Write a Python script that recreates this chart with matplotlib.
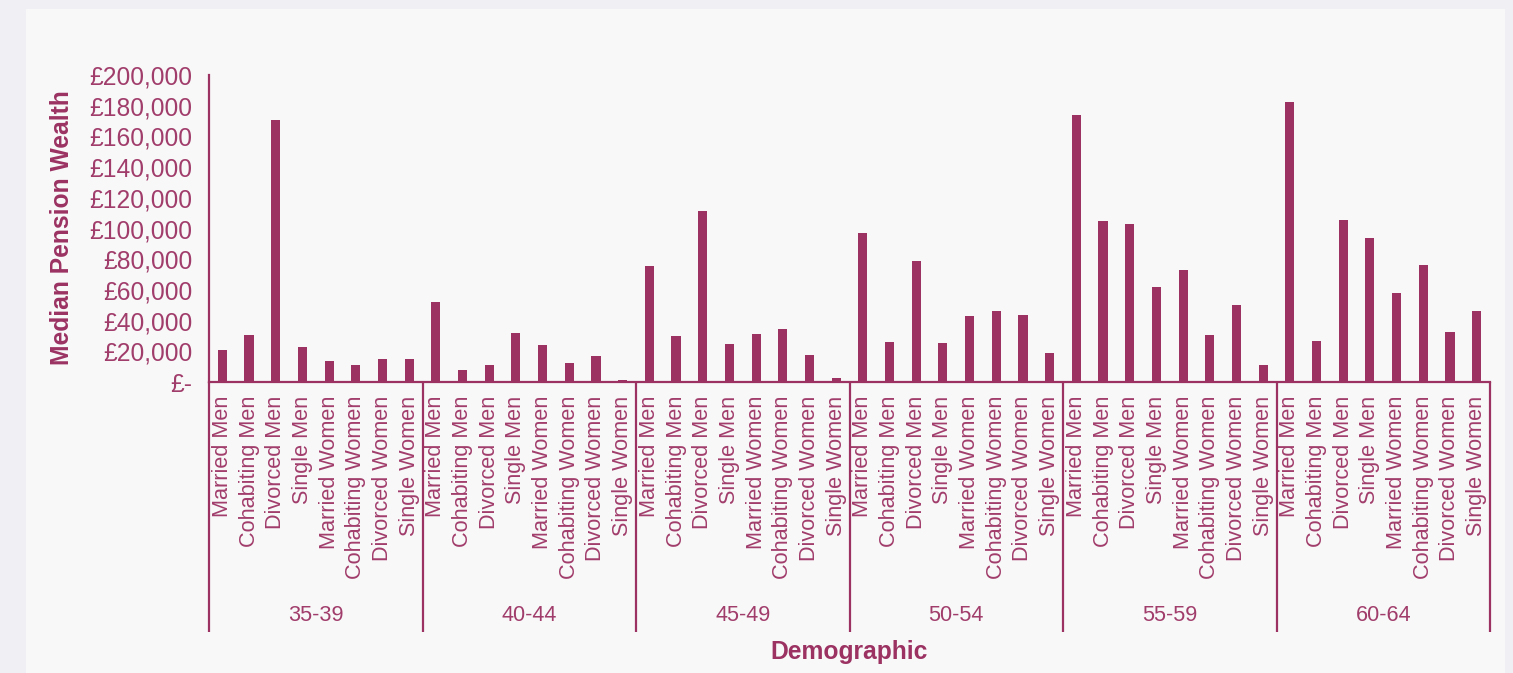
import matplotlib
matplotlib.use("Agg")
import matplotlib.pyplot as plt
from matplotlib.patches import Rectangle
from matplotlib.ticker import FuncFormatter
import matplotlib.transforms as mtransforms

plt.rcParams['font.family'] = ['Liberation Sans', 'DejaVu Sans']

age_groups = ["35-39", "40-44", "45-49", "50-54", "55-59", "60-64"]
demographics = ["Married Men", "Cohabiting Men", "Divorced Men", "Single Men",
                "Married Women", "Cohabiting Women", "Divorced Women", "Single Women"]

# median pension wealth (GBP), one list per age group, in demographic order
wealth_35_39 = [21000, 30500, 170500, 23000, 13700, 11000, 15000, 15000]
wealth_40_44 = [52000, 7800, 11000, 32000, 24300, 12300, 17000, 1000]
wealth_45_49 = [75600, 30000, 111500, 24700, 31300, 34500, 17600, 2600]
wealth_50_54 = [97000, 26000, 78800, 25400, 43000, 46200, 43600, 18900]
wealth_55_59 = [174000, 105000, 103000, 62000, 73000, 30600, 50200, 11100]
wealth_60_64 = [182500, 26700, 105500, 93800, 58000, 76200, 32600, 46200]
wealth = [wealth_35_39, wealth_40_44, wealth_45_49, wealth_50_54, wealth_55_59, wealth_60_64]

col = '#9b3262'
txt = '#a13d6b'

fig = plt.figure(figsize=(15.13, 6.73), dpi=100, facecolor='#efeff4')
fig.patches.append(Rectangle((26/1513, 0), (1505-26)/1513, (673-9)/673,
                             transform=fig.transFigure, facecolor='#f8f8f8',
                             edgecolor='none', zorder=-10))

ax = fig.add_axes([209/1513, (673-382)/673, (1490-209)/1513, (382-75)/673])
ax.set_facecolor('none')

n = len(demographics)
xs, vals, labels = [], [], []
for g, grp in enumerate(wealth):
    for i, v in enumerate(grp):
        xs.append(g*n + i)
        vals.append(v)
        labels.append(demographics[i])

ax.bar(xs, vals, width=0.34, color=col, zorder=2)

ax.set_xlim(-0.5, len(xs) - 0.5)
ax.set_ylim(0, 200000)
ax.set_yticks(range(0, 200001, 20000))
ax.yaxis.set_major_formatter(FuncFormatter(lambda v, p: "£-" if v == 0 else "£{:,.0f}".format(v)))
ax.tick_params(axis='y', length=0, pad=12, labelsize=17.7, labelcolor=txt)

ax.set_xticks(xs)
ax.set_xticklabels(labels, rotation=90)
ax.tick_params(axis='x', length=0, pad=10, labelsize=15.6, labelcolor=txt)

for s in ['top', 'right']:
    ax.spines[s].set_visible(False)
for s in ['left', 'bottom']:
    ax.spines[s].set_color(col)
    ax.spines[s].set_linewidth(1.6)

# group separators below the axis
trans = mtransforms.blended_transform_factory(ax.transData, ax.transAxes)
for g in range(len(age_groups) + 1):
    ax.plot([g*n - 0.5]*2, [0, -0.814], transform=trans, color=col, lw=1.6,
            clip_on=False, solid_capstyle='butt')
for g, name in enumerate(age_groups):
    ax.text(g*n + (n - 1)/2, -0.759, name, transform=trans, ha='center', va='center',
            fontsize=15.6, color=txt)

fig.text((209+1490)/2/1513, (673-652)/673, "Demographic", ha='center', va='center',
         fontsize=17.7, fontweight='bold', color=col)
fig.text(62/1513, (673-228)/673, "Median Pension Wealth", ha='center', va='center',
         rotation=90, fontsize=17.7, fontweight='bold', color=col)

fig.savefig("out.png", dpi=100, facecolor=fig.get_facecolor())
